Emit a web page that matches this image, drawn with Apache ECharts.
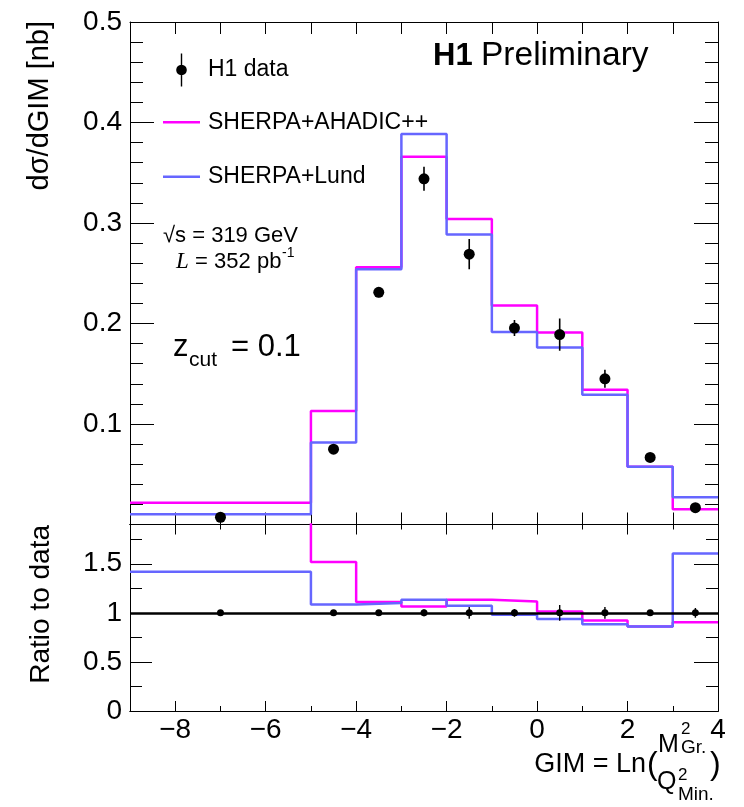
<!DOCTYPE html>
<html><head><meta charset="utf-8">
<script src="https://cdn.jsdelivr.net/npm/echarts@6/dist/echarts.min.js"></script>
<style>html,body{margin:0;padding:0;background:#fff}#c{width:744px;height:807px}</style>
</head><body><div id="c"></div>
<script>
// ---- data ----
const binEdges = [-9, -5, -4, -3, -2, -1, 0, 1, 2, 3, 4];
const dataX = [-7, -4.5, -3.5, -2.5, -1.5, -0.5, 0.5, 1.5, 2.5, 3.5];
const dataY = [0.0072, 0.075, 0.231, 0.344, 0.269, 0.1955, 0.189, 0.145, 0.0667, 0.0167];
const dataErr = [0.001, 0.002, 0.005, 0.012, 0.015, 0.008, 0.016, 0.009, 0.002, 0.001];
const ahadic = [0.0217, 0.113, 0.256, 0.366, 0.304, 0.218, 0.191, 0.134, 0.0574, 0.0151];
const lund = [0.0101, 0.0816, 0.254, 0.3885, 0.2885, 0.1915, 0.176, 0.129, 0.0574, 0.027];
const ratioAhadic = [3.0, 1.517, 1.11, 1.064, 1.133, 1.115, 1.013, 0.921, 0.86, 0.905];
const ratioLund = [1.418, 1.085, 1.10, 1.133, 1.071, 0.98, 0.936, 0.885, 0.86, 1.605];
const ratioVal = [1, 1, 1, 1, 1, 1, 1, 1, 1, 1];
const ratioErr = [0.02, 0.02, 0.02, 0.035, 0.06, 0.04, 0.08, 0.06, 0.03, 0.05];
const xTickLabels = [-8, -6, -4, -2, 0, 2, 4];
const yTopTickLabels = [0.1, 0.2, 0.3, 0.4, 0.5];
const yRatioTickLabels = [0, 0.5, 1, 1.5];
const yRatioMinorTicks = [0.25, 0.75, 1.25, 1.75];
const legendNames = ['H1 data', 'SHERPA+AHADIC++', 'SHERPA+Lund'];

const MAG = '#ff00ff', BLU = '#6666ff';
const FONT = '"Liberation Sans", Arial, Helvetica, sans-serif';

function stepData(vals) {
  const pts = vals.map((v, i) => [binEdges[i], v]);
  pts.push([binEdges[binEdges.length - 1], vals[vals.length - 1]]);
  return pts;
}
function pointData(ys, errs) { return dataX.map((x, i) => [x, ys[i], errs[i]]); }
const fmtNum = v => (v < 0 ? '\u2212' + Math.abs(v) : String(v));

const lineStyleAx = { color: '#000', width: 1 };
function xAx(grid, pos, extra) {
  return Object.assign({
    type: 'value', gridIndex: grid, position: pos, min: -9, max: 4, interval: 1,
    axisLine: { show: true, onZero: false, lineStyle: lineStyleAx },
    axisTick: { show: true, inside: true, length: 12, lineStyle: lineStyleAx },
    axisLabel: { show: false }, splitLine: { show: false }
  }, extra || {});
}
function yAx(grid, pos, min, max, extra) {
  return Object.assign({
    type: 'value', gridIndex: grid, position: pos, min: min, max: max,
    axisLine: { show: true, onZero: false, lineStyle: lineStyleAx },
    axisTick: { show: true, inside: true, length: 24, lineStyle: lineStyleAx },
    axisLabel: { show: false }, splitLine: { show: false }
  }, extra || {});
}
const tickLabelStyle = { show: true, color: '#000', fontSize: 28, fontFamily: FONT, showMinLabel: true, showMaxLabel: true };

const xAxes = [
  xAx(0, 'bottom'),
  xAx(0, 'top'),
  xAx(1, 'bottom', { axisTick: { show: true, inside: true, length: 5, lineStyle: lineStyleAx } }),
  xAx(1, 'bottom', {
    axisTick: { show: true, inside: true, length: 10, lineStyle: lineStyleAx, customValues: xTickLabels },
    axisLabel: Object.assign({}, tickLabelStyle, { margin: 5, customValues: xTickLabels, formatter: fmtNum })
  }),
  xAx(1, 'top', { axisTick: { show: true, inside: true, length: 5, lineStyle: lineStyleAx } }),
  xAx(1, 'top', { axisTick: { show: true, inside: true, length: 10, lineStyle: lineStyleAx, customValues: xTickLabels } })
];
const topYExtra = {
  interval: 0.1,
  minorTick: { show: true, splitNumber: 5, length: 13, lineStyle: lineStyleAx },
  minorSplitLine: { show: false }
};
const yAxes = [
  yAx(0, 'left', 0, 0.5, Object.assign({}, topYExtra, {
    axisLabel: Object.assign({}, tickLabelStyle, { margin: 8, customValues: yTopTickLabels, formatter: fmtNum })
  })),
  yAx(0, 'right', 0, 0.5, topYExtra),
  yAx(1, 'left', 0, 1.9, {
    axisTick: { show: true, inside: true, length: 22, lineStyle: lineStyleAx, customValues: yRatioTickLabels },
    axisLabel: Object.assign({}, tickLabelStyle, { margin: 8, customValues: yRatioTickLabels, formatter: fmtNum })
  }),
  yAx(1, 'left', 0, 1.9, { axisTick: { show: true, inside: true, length: 12, lineStyle: lineStyleAx, customValues: yRatioMinorTicks } }),
  yAx(1, 'right', 0, 1.9, { axisTick: { show: true, inside: true, length: 24, lineStyle: lineStyleAx, customValues: yRatioTickLabels } }),
  yAx(1, 'right', 0, 1.9, { axisTick: { show: true, inside: true, length: 12, lineStyle: lineStyleAx, customValues: yRatioMinorTicks } })
];

function errBarSeries(xi, yi, data, w) {
  return {
    type: 'custom', xAxisIndex: xi, yAxisIndex: yi, z: 4, silent: true,
    encode: { x: 0, y: 1 }, data: data, clip: true,
    renderItem: function (params, api) {
      const x = api.value(0), y = api.value(1), e = api.value(2);
      const p1 = api.coord([x, y - e]), p2 = api.coord([x, y + e]);
      return { type: 'line', shape: { x1: p1[0], y1: p1[1], x2: p2[0], y2: p2[1] }, style: { stroke: '#000', lineWidth: w } };
    }
  };
}
function histSeries(name, xi, yi, vals, color) {
  return {
    name: name, type: 'line', xAxisIndex: xi, yAxisIndex: yi, step: 'end', data: stepData(vals),
    symbol: 'none', showSymbol: false, clip: true, z: 2, silent: true, smooth: false,
    lineStyle: { color: color, width: 2.5 }, itemStyle: { color: color }
  };
}

const series = [
  histSeries(legendNames[1], 0, 0, ahadic, MAG),
  histSeries(legendNames[2], 0, 0, lund, BLU),
  errBarSeries(0, 0, pointData(dataY, dataErr), 1.6),
  { name: legendNames[0], type: 'scatter', xAxisIndex: 0, yAxisIndex: 0, z: 5, symbol: 'circle', symbolSize: 11,
    itemStyle: { color: '#000', opacity: 1 }, data: dataX.map((x, i) => [x, dataY[i]]) },
  histSeries('ratioA', 2, 2, ratioAhadic, MAG),
  histSeries('ratioL', 2, 2, ratioLund, BLU),
  errBarSeries(2, 2, pointData(ratioVal, ratioErr), 1.4),
  { name: 'ratioData', type: 'scatter', xAxisIndex: 2, yAxisIndex: 2, z: 5, symbol: 'circle', symbolSize: 7,
    itemStyle: { color: '#000', opacity: 1 }, data: dataX.map((x, i) => [x, ratioVal[i]]),
    markLine: { silent: true, symbol: ['none', 'none'], label: { show: false }, animation: false,
      lineStyle: { color: '#000', width: 2.5, type: 'solid', opacity: 1 }, data: [{ yAxis: 1 }] } }
];

// legend icons (shapes only); zero-area anchors fix the icon box to the full 37x33
let circ = '';
for (let k = 0; k < 24; k++) {
  const a = k / 24 * 2 * Math.PI;
  circ += (k === 0 ? 'M' : 'L') + (18.5 + 5.3 * Math.cos(a)).toFixed(2) + ',' + (16.5 + 5.3 * Math.sin(a)).toFixed(2) + ' ';
}
const anchors = 'M0,0 L0,0 Z M37,33 L37,33 Z ';
const dataIcon = 'path://' + anchors + 'M17.8,0 L19.2,0 L19.2,33 L17.8,33 Z ' + circ + 'Z';
const lineIcon = 'path://' + anchors + 'M0,15.3 L37,15.3 L37,17.7 L0,17.7 Z';
const legendCenters = [70, 122.3, 176.7];
const legendColors = ['#000', MAG, BLU];
const legends = legendNames.map((n, i) => ({
  left: 163, top: legendCenters[i] - 16.5, orient: 'vertical', padding: 0, itemWidth: 37, itemHeight: 33,
  selectedMode: false, symbolKeepAspect: false,
  textStyle: { fontSize: 23, color: '#000', fontFamily: FONT, padding: [0, 0, 0, 3] },
  data: [{ name: n, icon: i === 0 ? dataIcon : lineIcon, itemStyle: { color: legendColors[i], opacity: 1, borderWidth: 0 } }]
}));

function txt(text, x, y, font, align, extra) {
  return Object.assign({ type: 'text', x: x, y: y, silent: true,
    style: { text: text, x: 0, y: 0, fill: '#000', font: font, textAlign: align || 'left', textVerticalAlign: 'middle' } }, extra || {});
}
const f = (s, w) => (w || '') + ' ' + s + 'px ' + FONT;

const graphics = [
  txt('d\u03c3/dGIM [nb]', 40, 21, f(29), 'right', { rotation: Math.PI / 2 }),
  txt('Ratio to data', 41, 525, f(28), 'right', { rotation: Math.PI / 2 }),
  txt('H1', 433, 56, f(31, 'bold'), 'left'),
  txt('Preliminary', 481, 56, f(33.5), 'left'),
  txt('\u221as = 319 GeV', 163, 236, f(22), 'left'),
  txt('L', 176, 262, 'italic 23px "Liberation Serif", "Times New Roman", serif', 'left'),
  txt(' = 352 pb', 189, 262, f(22), 'left'),
  txt('-1', 282, 253, f(14), 'left'),
  txt('z', 173, 347, f(31), 'left'),
  txt('cut', 189, 360, f(21), 'left'),
  txt('= 0.1', 231, 347, f(31), 'left'),
  txt('GIM = Ln', 646, 765, f(27), 'right'),
  txt('(', 647, 765, f(32), 'left'),
  txt('M', 658, 745, f(25), 'left'),
  txt('2', 681, 729, f(17), 'left'),
  txt('Gr.', 681, 748, f(19), 'left'),
  txt('Q', 657, 782, f(25), 'left'),
  txt('2', 678, 775, f(17), 'left'),
  txt('Min.', 678, 795, f(19), 'left'),
  txt(')', 710, 765, f(32), 'left')
];

const chart = echarts.init(document.getElementById('c'), null, { renderer: 'canvas' });
chart.setOption({
  animation: false,
  backgroundColor: '#fff',
  textStyle: { fontFamily: FONT },
  grid: [
    { left: 130, top: 22, width: 588, height: 502.5, containLabel: false },
    { left: 130, top: 524.5, width: 588, height: 186.5, containLabel: false }
  ],
  xAxis: xAxes,
  yAxis: yAxes,
  legend: legends,
  series: series,
  graphic: graphics
});
</script></body></html>
